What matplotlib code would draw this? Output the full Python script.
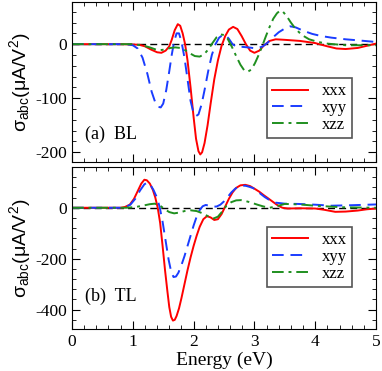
import matplotlib
matplotlib.use("Agg")
import matplotlib.pyplot as plt
from matplotlib.ticker import MultipleLocator

plt.rcParams['font.family'] = ['Liberation Serif', 'DejaVu Serif']
plt.rcParams['mathtext.fontset'] = 'custom'
plt.rcParams['mathtext.rm'] = 'Liberation Sans'
plt.rcParams['mathtext.it'] = 'Liberation Sans'
plt.rcParams['axes.unicode_minus'] = False

# (a) BL
bl_xxx_e = [0, 0.8, 1.1, 1.2, 1.3, 1.4, 1.47, 1.54, 1.6, 1.64, 1.69, 1.74, 1.78, 1.82, 1.86,
            1.9, 1.95, 2.0, 2.04, 2.08, 2.11, 2.14, 2.18, 2.23, 2.28, 2.34, 2.4, 2.46, 2.52,
            2.58, 2.65, 2.72, 2.79, 2.86, 2.93, 3.0, 3.08, 3.15, 3.25, 3.35, 3.5, 3.75, 4.0,
            4.2, 4.35, 4.5, 4.7, 4.85, 5.0]
bl_xxx = [0, 0, -1, -4, -10, -15, -16, -12, -4, 8, 26, 37, 34, 20, 0,
          -30, -80, -135, -175, -198, -204, -200, -183, -150, -110, -65, -30, -3, 15,
          27, 32, 28, 15, 0, -12, -16, -12, -3, 6, 9, 8, 6, 2,
          -4, -8, -9, -7, -3, 1]

bl_xyy_e = [0, 0.9, 1.0, 1.08, 1.16, 1.24, 1.31, 1.37, 1.42, 1.46, 1.5, 1.55, 1.6, 1.64,
            1.68, 1.72, 1.76, 1.8, 1.85, 1.9, 1.95, 2.0, 2.04, 2.08, 2.13, 2.18, 2.24, 2.3,
            2.36, 2.42, 2.48, 2.53, 2.58, 2.64, 2.71, 2.8, 2.9, 3.04, 3.14, 3.22, 3.3, 3.4,
            3.5, 3.59, 3.68, 3.8, 3.95, 4.1, 4.27, 4.5, 4.71, 5.0]
bl_xyy = [0, 0, -2, -8, -25, -55, -88, -108, -116, -117, -110, -85, -50, -20,
          5, 20, 20, 5, -25, -65, -105, -128, -133, -130, -112, -85, -50, -20,
          0, 12, 17, 16, 10, 0, -5, -5, -6, -8, -4, 3, 12, 22,
          29, 33, 31, 25, 19, 15, 12, 9, 7, 4]

bl_xzz_e = [0, 1.0, 1.15, 1.28, 1.38, 1.45, 1.53, 1.62, 1.7, 1.78, 1.86, 1.94, 2.02, 2.1,
            2.17, 2.24, 2.31, 2.38, 2.44, 2.5, 2.56, 2.63, 2.7, 2.77, 2.83, 2.89, 2.95, 3.01,
            3.07, 3.13, 3.19, 3.25, 3.31, 3.37, 3.42, 3.47, 3.53, 3.6, 3.68, 3.78, 3.9, 4.05,
            4.2, 4.5, 5.0]
bl_xzz = [0, 0, -2, -6, -10, -11, -10, -7, -6, -7, -11, -17, -22, -23,
          -19, -10, 2, 13, 18, 17, 10, -5, -22, -38, -48, -51, -47, -35,
          -20, -3, 15, 32, 47, 57, 62, 60, 52, 40, 28, 17, 9, 4,
          1, -2, -2]

# (b) TL
tl_xxx_e = [0, 0.8, 0.87, 0.95, 1.02, 1.08, 1.14, 1.19, 1.23, 1.28, 1.33, 1.37, 1.41, 1.45,
            1.49, 1.53, 1.57, 1.6, 1.63, 1.66, 1.69, 1.72, 1.76, 1.8, 1.85, 1.9, 1.95, 2.0,
            2.05, 2.1, 2.16, 2.22, 2.28, 2.34, 2.4, 2.46, 2.52, 2.58, 2.64, 2.7, 2.77, 2.85,
            2.93, 3.0, 3.08, 3.15, 3.22, 3.3, 3.38, 3.46, 3.55, 3.75, 4.0, 4.15, 4.33, 4.5,
            4.7, 4.85, 5.0]
tl_xxx = [0, 0, 3, 12, 35, 65, 95, 110, 108, 95, 70, 40, 0, -60,
          -150, -245, -330, -390, -428, -443, -440, -425, -395, -355, -300, -245, -195, -150,
          -110, -75, -45, -33, -38, -48, -45, -25, 5, 35, 60, 78, 88, 90,
          85, 75, 63, 50, 38, 24, 10, 0, -3, -2, -3, -8, -16, -15,
          -11, -6, -3]

tl_xyy_e = [0, 0.8, 0.88, 0.96, 1.04, 1.12, 1.19, 1.24, 1.29, 1.34, 1.39, 1.44, 1.49, 1.54,
            1.59, 1.63, 1.67, 1.71, 1.75, 1.8, 1.85, 1.9, 1.95, 2.0, 2.05, 2.1, 2.15, 2.2,
            2.26, 2.32, 2.38, 2.44, 2.5, 2.56, 2.62, 2.68, 2.74, 2.8, 2.86, 2.92, 2.98, 3.04,
            3.1, 3.17, 3.25, 3.35, 3.5, 3.72, 4.0, 4.27, 4.6, 5.0]
tl_xyy = [0, 0, 3, 12, 35, 68, 92, 99, 90, 70, 44, 5, -55, -130,
          -205, -250, -272, -270, -255, -225, -190, -150, -110, -70, -35, -9, 6, 11,
          8, 4, 5, 12, 25, 42, 60, 74, 83, 87, 86, 82, 77, 68,
          55, 42, 30, 20, 16, 15, 12, 8, 10, 13]

tl_xzz_e = [0, 0.9, 1.05, 1.18, 1.28, 1.36, 1.44, 1.52, 1.6, 1.68, 1.76, 1.85, 1.95, 2.05,
            2.15, 2.25, 2.33, 2.4, 2.47, 2.54, 2.62, 2.7, 2.78, 2.86, 2.95, 3.05, 3.15, 3.25,
            3.35, 3.5, 3.75, 4.0, 4.44, 5.0]
tl_xzz = [0, 0, 3, 9, 14, 16, 10, -5, -17, -22, -19, -13, -10, -13,
          -22, -35, -42, -35, -15, 8, 22, 29, 30, 26, 20, 12, 5, 0,
          5, 15, 13, 8, 2, 0]

labels = ['xxx', 'xyy', 'xzz']
colors = ['#ff0000', '#1a3cff', '#1f8f1f']
styles = ['-', (0, (6, 3.5)), (0, (6, 2.5, 1.5, 2.5))]


def style_axes(ax, ylim, major, minor):
    ax.set_xlim(0, 5)
    ax.set_ylim(*ylim)
    ax.xaxis.set_major_locator(MultipleLocator(1))
    ax.xaxis.set_minor_locator(MultipleLocator(0.2))
    ax.yaxis.set_major_locator(MultipleLocator(major))
    ax.yaxis.set_minor_locator(MultipleLocator(minor))
    ax.tick_params(which='both', direction='in', top=True, right=True, labelsize=12.5)
    ax.tick_params(which='major', length=6)
    ax.tick_params(which='minor', length=3)
    ax.axhline(0, color='black', lw=1, ls=(0, (5, 3)), zorder=1)
    ax.set_ylabel(r'$\mathrm{\sigma_{abc}(\mu A/V^2)}$', fontsize=14, labelpad=2)


fig = plt.figure(figsize=(3.82, 3.71), dpi=100)
ax1 = fig.add_axes([72 / 382, 1 - 162 / 371, 304 / 382, 160 / 371])
ax2 = fig.add_axes([72 / 382, 1 - 329 / 371, 304 / 382, 162 / 371])

for ax, data, tag, ylim, major, minor, legy, tagy in [
        (ax1, [(bl_xxx_e, bl_xxx), (bl_xyy_e, bl_xyy), (bl_xzz_e, bl_xzz)],
         '(a)  BL', (-218, 78), 100, 20, 0.15, 0.17),
        (ax2, [(tl_xxx_e, tl_xxx), (tl_xyy_e, tl_xyy), (tl_xzz_e, tl_xzz)],
         '(b)  TL', (-476, 160), 200, 40, 0.26, 0.2)]:
    for (e, v), lab, c, ls in zip(data, labels, colors, styles):
        ax.plot(e, v, color=c, ls=ls, lw=1.4, label=lab, zorder=2)
    style_axes(ax, ylim, major, minor)
    ax.text(0.043, tagy, tag, transform=ax.transAxes, fontsize=13, va='center')
    leg = ax.legend(loc='lower left', bbox_to_anchor=(0.64, legy), fontsize=12,
                    handlelength=2.2, labelspacing=0.05, borderpad=0.3,
                    handletextpad=0.8, fancybox=False, framealpha=1,
                    borderaxespad=0)
    leg.get_frame().set_edgecolor('#555555')
    leg.get_frame().set_linewidth(1.2)

ax1.tick_params(labelbottom=False)
ax2.set_xlabel('Energy (eV)', fontsize=14, labelpad=1)

fig.savefig('out.png', dpi=100)
